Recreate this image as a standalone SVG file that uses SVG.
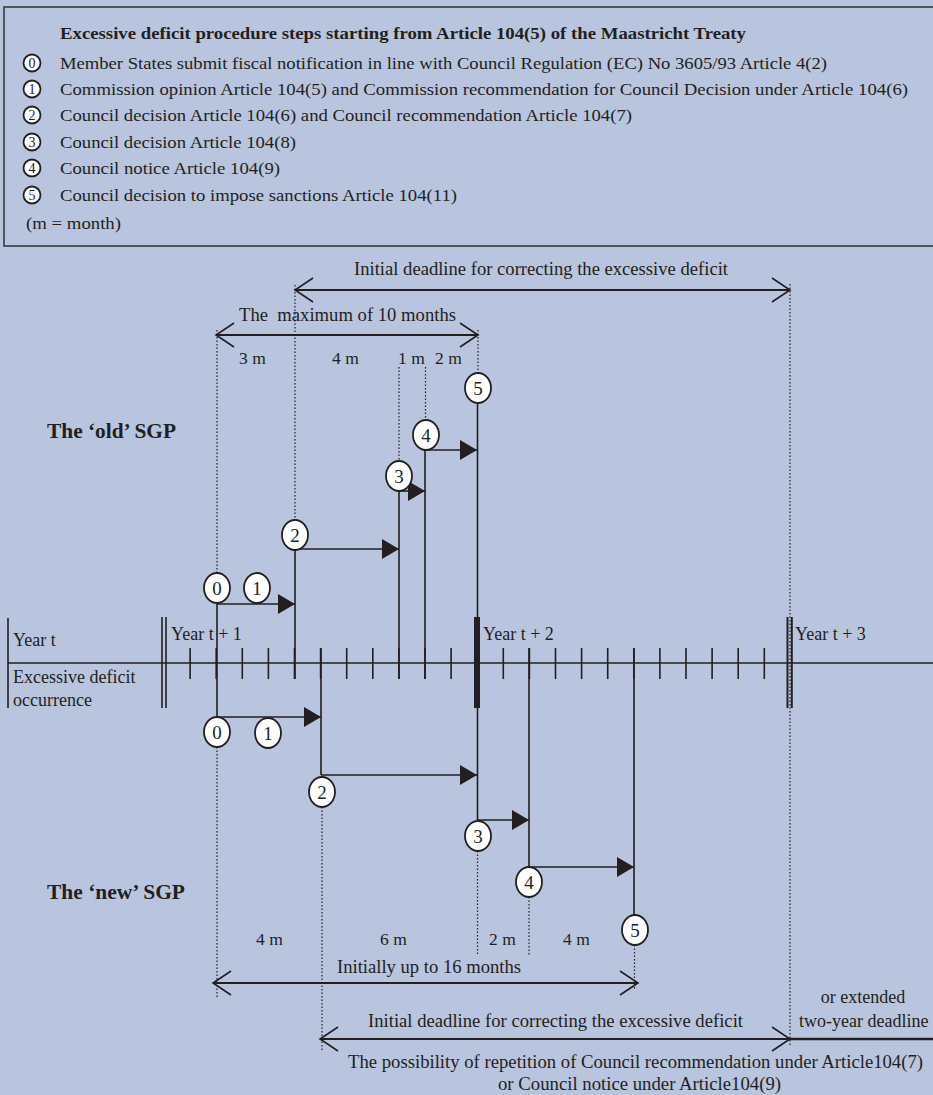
<svg xmlns="http://www.w3.org/2000/svg" width="933" height="1095" viewBox="0 0 933 1095">
<defs>
<style>
.t{font-family:"Liberation Serif","Times New Roman",serif;fill:#231f20;}
.h{font-size:18px;}
.hl{font-size:17px;}
.b{font-weight:bold;}
.c{fill:#fff;stroke:#231f20;stroke-width:1.8;}
.n{font-family:"Liberation Serif","Times New Roman",serif;fill:#231f20;font-size:19px;text-anchor:middle;}
.hn{font-family:"Liberation Serif","Times New Roman",serif;fill:#231f20;font-size:14px;text-anchor:middle;}
.ln{stroke:#231f20;stroke-width:1.6;fill:none;}
.dot{stroke:#231f20;stroke-width:1.2;stroke-dasharray:1.5 2;fill:none;}
.tk{stroke:#231f20;stroke-width:1.6;}
.arr{stroke:#231f20;stroke-width:1.6;fill:none;marker-end:url(#tri);}
.dbl{stroke:#231f20;stroke-width:1.8;fill:none;marker-start:url(#open);marker-end:url(#open);}
</style>
<marker id="tri" markerUnits="userSpaceOnUse" markerWidth="17" markerHeight="20" refX="17" refY="10" orient="auto" overflow="visible"><path d="M0,0 L17,10 L0,20 z" fill="#231f20"/></marker>
<marker id="open" markerUnits="userSpaceOnUse" markerWidth="20" markerHeight="26" refX="19" refY="12" orient="auto-start-reverse" overflow="visible"><path d="M1,0 L19,12 L1,24" fill="none" stroke="#231f20" stroke-width="1.6"/></marker>
</defs>
<rect x="0" y="0" width="933" height="1095" fill="#b9c4de"/>

<g id="legend">
<rect x="4" y="7" width="940" height="239" fill="none" stroke="#3a3a3a" stroke-width="1.6"/>
<text class="t b" x="60" y="39" font-size="17" textLength="686" lengthAdjust="spacingAndGlyphs">Excessive deficit procedure steps starting from Article 104(5) of the Maastricht Treaty</text>
<g id="leg0"><ellipse class="c" cx="32" cy="63" rx="8.5" ry="8.5"/><text class="hn" x="32" y="68">0</text><text class="t hl" x="60" y="69" textLength="767" lengthAdjust="spacingAndGlyphs">Member States submit fiscal notification in line with Council Regulation (EC) No 3605/93 Article 4(2)</text></g>
<g id="leg1"><ellipse class="c" cx="32" cy="89" rx="8.5" ry="8.5"/><text class="hn" x="32" y="94">1</text><text class="t hl" x="60" y="95" textLength="848" lengthAdjust="spacingAndGlyphs">Commission opinion Article 104(5) and Commission recommendation for Council Decision under Article 104(6)</text></g>
<g id="leg2"><ellipse class="c" cx="32" cy="115" rx="8.5" ry="8.5"/><text class="hn" x="32" y="120">2</text><text class="t hl" x="60" y="121" textLength="572" lengthAdjust="spacingAndGlyphs">Council decision Article 104(6) and Council recommendation Article 104(7)</text></g>
<g id="leg3"><ellipse class="c" cx="32" cy="142" rx="8.5" ry="8.5"/><text class="hn" x="32" y="147">3</text><text class="t hl" x="60" y="148" textLength="236" lengthAdjust="spacingAndGlyphs">Council decision Article 104(8)</text></g>
<g id="leg4"><ellipse class="c" cx="32" cy="168" rx="8.5" ry="8.5"/><text class="hn" x="32" y="173">4</text><text class="t hl" x="60" y="174" textLength="220" lengthAdjust="spacingAndGlyphs">Council notice Article 104(9)</text></g>
<g id="leg5"><ellipse class="c" cx="32" cy="195" rx="8.5" ry="8.5"/><text class="hn" x="32" y="200">5</text><text class="t hl" x="60" y="201" textLength="397" lengthAdjust="spacingAndGlyphs">Council decision to impose sanctions Article 104(11)</text></g>
<text class="t hl" x="26" y="229" textLength="95" lengthAdjust="spacingAndGlyphs">(m = month)</text>
</g>

<g id="timeline">
<line class="tk" x1="8" y1="663" x2="933" y2="663"/>
<line class="tk" x1="8" y1="618" x2="8" y2="708"/>
<line class="tk" x1="162" y1="617" x2="162" y2="708"/>
<line class="tk" x1="166" y1="617" x2="166" y2="708"/>
<rect x="474" y="617" width="6" height="91" fill="#231f20"/>
<line x1="787.5" y1="617" x2="787.5" y2="708" stroke="#231f20" stroke-width="2"/>
<line x1="791.8" y1="617" x2="791.8" y2="708" stroke="#231f20" stroke-width="2"/>
<path class="tk" d="M190.1,648V679M216.2,648V679M242.3,648V679M268.4,648V679M294.5,648V679M320.6,648V679M346.7,648V679M372.8,648V679M398.9,648V679M425,648V679M451.1,648V679M503.3,648V679M529.4,648V679M555.5,648V679M581.6,648V679M607.7,648V679M633.8,648V679M659.9,648V679M686,648V679M712.1,648V679M738.2,648V679M764.3,648V679"/>
<text class="t h" x="13" y="646">Year t</text>
<text class="t h" x="13" y="683">Excessive deficit</text>
<text class="t h" x="13" y="706">occurrence</text>
<text class="t h" x="171" y="640">Year t + 1</text>
<text class="t h" x="483" y="640">Year t + 2</text>
<text class="t h" x="795" y="640">Year t + 3</text>
</g>

<g id="connectors">
<path class="dot" d="M217,330V573M295,285V520M399,367V461M425.5,367V420M478,330V373M790,284V1045M217,747V997M322,807V1052M477.5,851V956M529,897V955M634.5,945V990"/>
<path class="ln" d="M217,603V717M295,549V679M399,491V679M425,450V679M477.5,403V820M321,648V775M529,648V867M634,648V915"/>
<line class="arr" x1="217" y1="604" x2="295" y2="604"/>
<line class="arr" x1="295" y1="549" x2="399" y2="549"/>
<line class="arr" x1="399" y1="491" x2="425" y2="491"/>
<line class="arr" x1="425" y1="450" x2="477" y2="450"/>
<line class="arr" x1="217" y1="717" x2="321" y2="717"/>
<line class="arr" x1="321" y1="775" x2="477" y2="775"/>
<line class="arr" x1="477" y1="820" x2="529" y2="820"/>
<line class="arr" x1="529" y1="867" x2="634" y2="867"/>
<line class="dbl" x1="295" y1="290" x2="790" y2="290"/>
<line class="dbl" x1="216" y1="335" x2="478" y2="335"/>
<line class="dbl" x1="213" y1="983" x2="638" y2="983"/>
<line class="dbl" x1="320" y1="1039" x2="790" y2="1039"/>
<line x1="790" y1="1039" x2="933" y2="1039" stroke="#231f20" stroke-width="2.6"/>
</g>

<g id="labels">
<text class="t" font-size="18" x="354" y="275" textLength="374" lengthAdjust="spacingAndGlyphs">Initial deadline for correcting the excessive deficit</text>
<text class="t" font-size="18" x="239" y="321" textLength="217" lengthAdjust="spacingAndGlyphs" style="white-space:pre">The  maximum of 10 months</text>
<text class="t" font-size="17.5" x="239" y="364">3 m</text>
<text class="t" font-size="17.5" x="332" y="364">4 m</text>
<text class="t" font-size="17.5" x="398" y="364">1 m</text>
<text class="t" font-size="17.5" x="435" y="364">2 m</text>
<text class="t b" font-size="21" x="47" y="438" textLength="129" lengthAdjust="spacingAndGlyphs">The ‘old’ SGP</text>
<text class="t b" font-size="21" x="47" y="899" textLength="138" lengthAdjust="spacingAndGlyphs">The ‘new’ SGP</text>
<text class="t" font-size="17.5" x="256" y="945">4 m</text>
<text class="t" font-size="17.5" x="380" y="945">6 m</text>
<text class="t" font-size="17.5" x="489" y="945">2 m</text>
<text class="t" font-size="17.5" x="563" y="945">4 m</text>
<text class="t" font-size="18" x="337" y="973" textLength="184" lengthAdjust="spacingAndGlyphs">Initially up to 16 months</text>
<text class="t" font-size="18" x="863" y="1003" text-anchor="middle">or extended</text>
<text class="t" font-size="18" x="799" y="1027">two-year deadline</text>
<text class="t" font-size="18" x="368" y="1027" textLength="375" lengthAdjust="spacingAndGlyphs">Initial deadline for correcting the excessive deficit</text>
<text class="t" font-size="18" x="348" y="1068" textLength="575" lengthAdjust="spacingAndGlyphs">The possibility of repetition of Council recommendation under Article104(7)</text>
<text class="t" font-size="18" x="498" y="1090" textLength="283" lengthAdjust="spacingAndGlyphs">or Council notice under Article104(9)</text>
</g>

<g id="old-0"><ellipse class="c" cx="217" cy="588" rx="13" ry="15"/><text class="n" x="217" y="595">0</text></g>
<g id="old-1"><ellipse class="c" cx="257" cy="588" rx="13" ry="15"/><text class="n" x="257" y="595">1</text></g>
<g id="old-2"><ellipse class="c" cx="295" cy="535" rx="13" ry="15"/><text class="n" x="295" y="542">2</text></g>
<g id="old-3"><ellipse class="c" cx="399" cy="476" rx="13" ry="15"/><text class="n" x="399" y="483">3</text></g>
<g id="old-4"><ellipse class="c" cx="426" cy="435" rx="13" ry="15"/><text class="n" x="426" y="442">4</text></g>
<g id="old-5"><ellipse class="c" cx="478" cy="388" rx="13" ry="15"/><text class="n" x="478" y="395">5</text></g>
<g id="new-0"><ellipse class="c" cx="217" cy="732" rx="13" ry="15"/><text class="n" x="217" y="739">0</text></g>
<g id="new-1"><ellipse class="c" cx="268" cy="733" rx="13" ry="15"/><text class="n" x="268" y="740">1</text></g>
<g id="new-2"><ellipse class="c" cx="322" cy="792" rx="13" ry="15"/><text class="n" x="322" y="799">2</text></g>
<g id="new-3"><ellipse class="c" cx="478" cy="836" rx="13" ry="15"/><text class="n" x="478" y="843">3</text></g>
<g id="new-4"><ellipse class="c" cx="529" cy="882" rx="13" ry="15"/><text class="n" x="529" y="889">4</text></g>
<g id="new-5"><ellipse class="c" cx="635" cy="930" rx="13" ry="15"/><text class="n" x="635" y="937">5</text></g>
</svg>
